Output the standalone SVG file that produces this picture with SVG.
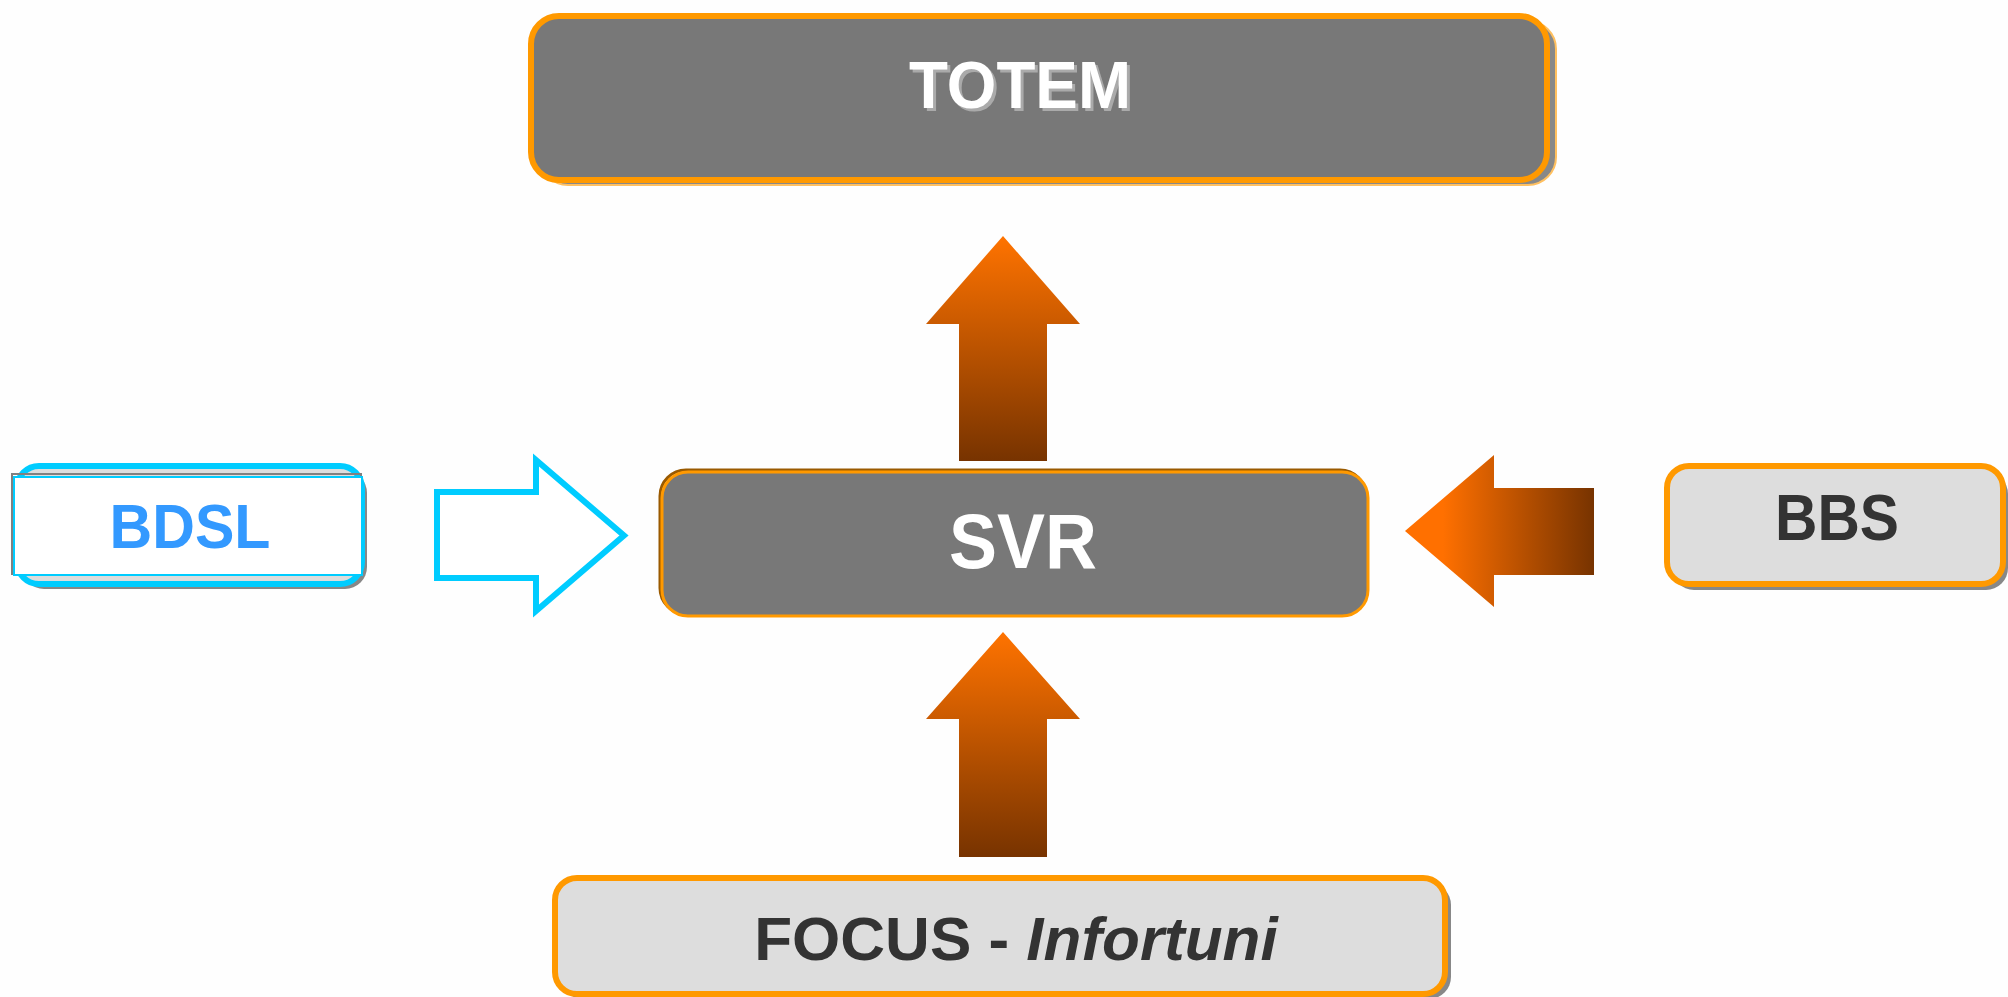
<svg xmlns="http://www.w3.org/2000/svg" width="2008" height="997" viewBox="0 0 2008 997">
  <defs>
    <linearGradient id="gUp" x1="0" y1="0" x2="0" y2="1">
      <stop offset="0" stop-color="#ff7300"/>
      <stop offset="1" stop-color="#773300"/>
    </linearGradient>
    <linearGradient id="gLeft" x1="0" y1="0" x2="1" y2="0">
      <stop offset="0.2" stop-color="#ff7000"/>
      <stop offset="1" stop-color="#773300"/>
    </linearGradient>
  </defs>
  <style>
    .lbl { font-family: "Liberation Sans", Arial, sans-serif; font-weight: bold; text-anchor: middle; }
    .shadow { fill: #888888; }
    .dark { fill: #787878; }
    .light { fill: #dddddd; }
    .orange { stroke: #ff9900; }
  </style>
  <rect x="0" y="0" width="2008" height="997" fill="#fefefe"/>

  <g id="connectors">
    <polygon points="1003,236 1080,324 1047,324 1047,461 959,461 959,324 926,324" fill="url(#gUp)"/>
    <polygon points="1003,632 1080,719 1047,719 1047,857 959,857 959,719 926,719" fill="url(#gUp)"/>
    <polygon points="1405,531 1494,455 1494,488 1594,488 1594,575 1494,575 1494,607" fill="url(#gLeft)"/>
    <polygon points="437,492 536,492 536,460 624,535.5 536,611 536,578 437,578" fill="#ffffff" stroke="#00ccff" stroke-width="6"/>
  </g>

  <g id="node-totem">
    <rect x="540" y="21" width="1016" height="164" rx="28" class="shadow" stroke="#ffc060" stroke-width="2"/>
    <rect x="531" y="16" width="1016" height="164" rx="28" class="dark orange" stroke-width="6"/>
    <text x="1023" y="111" class="lbl" font-size="66" fill="#aaaaaa" textLength="222" lengthAdjust="spacingAndGlyphs">TOTEM</text>
    <text x="1020" y="108" class="lbl" font-size="66" fill="#ffffff" textLength="222" lengthAdjust="spacingAndGlyphs">TOTEM</text>
  </g>

  <g id="node-svr">
    <rect x="660" y="470" width="706" height="144" rx="26" fill="none" stroke="#9a5a00" stroke-width="3"/>
    <rect x="662" y="472" width="706" height="144" rx="26" class="dark orange" stroke-width="3"/>
    <text x="1023" y="568" class="lbl" font-size="77" fill="#ffffff" textLength="148" lengthAdjust="spacingAndGlyphs">SVR</text>
  </g>

  <g id="node-bdsl">
    <rect x="22" y="471" width="345" height="118" rx="22" class="shadow"/>
    <rect x="17" y="466" width="345" height="118" rx="22" class="light" stroke="#00ccff" stroke-width="6"/>
    <rect x="12" y="474" width="349" height="100" fill="none" stroke="#808080" stroke-width="2"/>
    <rect x="14" y="477" width="348" height="98" fill="#ffffff" stroke="#00ccff" stroke-width="2"/>
    <text x="190" y="548" class="lbl" font-size="63" fill="#3399ff" textLength="161" lengthAdjust="spacingAndGlyphs">BDSL</text>
  </g>

  <g id="node-bbs">
    <rect x="1672" y="472" width="336" height="118" rx="22" class="shadow"/>
    <rect x="1667" y="466" width="336" height="118" rx="22" class="light orange" stroke-width="6"/>
    <text x="1837" y="540" class="lbl" font-size="64" fill="#333333" textLength="124" lengthAdjust="spacingAndGlyphs">BBS</text>
  </g>

  <g id="node-focus">
    <rect x="561" y="883" width="890" height="116" rx="22" class="shadow"/>
    <rect x="555" y="878" width="890" height="116" rx="22" class="light orange" stroke-width="6"/>
    <text x="1016" y="960" class="lbl" font-size="62" fill="#333333">FOCUS - <tspan font-style="italic">Infortuni</tspan></text>
  </g>
</svg>
